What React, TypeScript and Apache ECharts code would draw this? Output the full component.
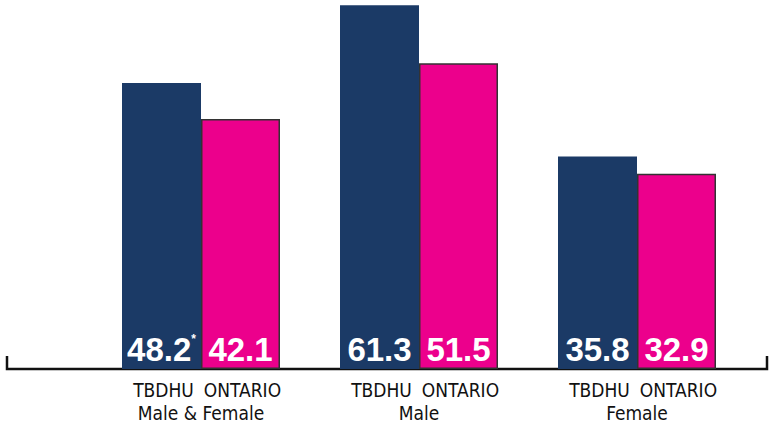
import React, { useEffect, useRef } from "react";
import * as echarts from "echarts";

const groups = ["Male & Female", "Male", "Female"];
const tbdhuValues = [48.2, 61.3, 35.8];
const ontarioValues = [42.1, 51.5, 32.9];
const tbdhuNotes = ["*", "", ""];
const seriesNames = ["TBDHU", "ONTARIO"];

const catFont = "'Liberation Sans Narrow', 'DejaVu Sans Condensed', 'Liberation Sans', sans-serif";

export default function App() {
  const ref = useRef<HTMLDivElement>(null);
  useEffect(() => {
    document.body.style.margin = "0";
    const chart = echarts.init(ref.current!, null, { renderer: "svg" });
    const labelBase = {
      show: true,
      position: "insideBottom",
      distance: 3,
      color: "#fff",
      fontFamily: "Liberation Sans",
      fontWeight: "bold",
      fontSize: 33,
    };
    const catText = { color: "#111", fontFamily: catFont, fontSize: 19, lineHeight: 23 };
    chart.setOption({
      animation: false,
      grid: { left: 92, right: 25, top: 1, bottom: 58 },
      xAxis: {
        type: "category",
        data: groups,
        axisLine: { show: false },
        axisTick: { show: false },
        axisLabel: {
          interval: 0,
          hideOverlap: false,
          margin: 9,
          ...catText,
          formatter: (v: string) => `{a|${seriesNames[0]}}{b|${seriesNames[1]}}\n{c|${v}}`,
          rich: {
            a: { ...catText, width: 79, align: "center", padding: [0, 0, 0, 4] },
            b: { ...catText, width: 79, align: "center" },
            c: { ...catText, align: "center" },
          },
        },
      },
      yAxis: { type: "value", min: 0, max: 62, show: false, splitLine: { show: false } },
      series: [
        {
          name: seriesNames[0],
          type: "bar",
          data: tbdhuValues,
          barWidth: 79,
          barGap: "0%",
          itemStyle: { color: "#1b3a66" },
          label: {
            ...labelBase,
            formatter: (p: any) => `{v|${p.value}}{s|${tbdhuNotes[p.dataIndex]}}`,
            rich: {
              v: { color: "#fff", fontFamily: "Liberation Sans", fontWeight: "bold", fontSize: 33 },
              s: { color: "#fff", fontFamily: "Liberation Sans", fontWeight: "bold", fontSize: 12, verticalAlign: "top", padding: [0, 0, 16, 0] },
            },
          },
        },
        {
          name: seriesNames[1],
          type: "bar",
          data: ontarioValues,
          barWidth: 79,
          barGap: "0%",
          itemStyle: { color: "#ec008c", borderColor: "#333", borderWidth: 1.5 },
          label: { ...labelBase },
        },
      ],
      graphic: [
        {
          type: "polyline",
          shape: { points: [[7, 356], [7, 369], [767, 369], [767, 356]] },
          style: { stroke: "#111", lineWidth: 2.5, fill: "none" },
        },
      ],
    });
    return () => chart.dispose();
  }, []);
  return <div ref={ref} style={{ width: 771, height: 427 }} />;
}
